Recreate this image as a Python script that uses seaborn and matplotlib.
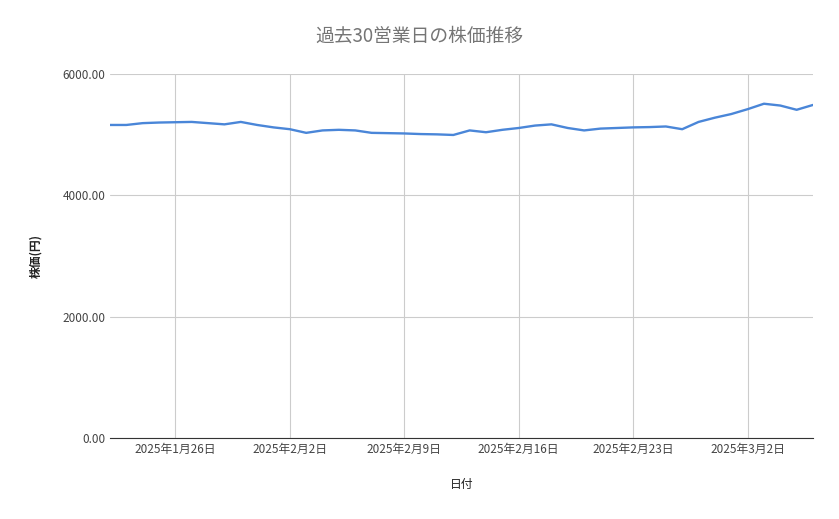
import matplotlib
matplotlib.use("Agg")
import matplotlib.pyplot as plt
import seaborn as sns
import pandas as pd

dates = pd.date_range("2025-01-22", "2025-03-06", freq="D")
prices = [5160, 5160, 5190, 5200, 5205, 5210, 5190, 5170, 5210, 5160, 5120, 5090,
          5030, 5070, 5080, 5070, 5030, 5025, 5020, 5010, 5005, 4995, 5070, 5040,
          5080, 5110, 5150, 5170, 5110, 5070, 5100, 5110, 5120, 5125, 5135, 5090,
          5210, 5280, 5340, 5420, 5510, 5480, 5410, 5490]
ticks = pd.to_datetime(["2025-01-26", "2025-02-02", "2025-02-09", "2025-02-16", "2025-02-23", "2025-03-02"])
tick_labels = ["2025年1月26日", "2025年2月2日", "2025年2月9日", "2025年2月16日", "2025年2月23日", "2025年3月2日"]
yticks = [0, 2000, 4000, 6000]

sns.set_style("white")
plt.rcParams['font.family'] = ['Noto Sans CJK JP', 'DejaVu Sans']
df = pd.DataFrame({"date": dates, "price": prices})

fig = plt.figure(figsize=(8.39, 5.19), dpi=100)
ax = fig.add_axes([110/839, 1-438/519, (813-110)/839, (438-74)/519])
sns.lineplot(data=df, x="date", y="price", ax=ax, color="#4a86d8", linewidth=1.7)
ax.set_xlim(dates[0], dates[-1])
ax.set_ylim(0, 6000)
ax.set_xticks(ticks)
ax.set_xticklabels(tick_labels)
ax.set_yticks(yticks)
ax.set_yticklabels([f"{v:.2f}" for v in yticks])
ax.tick_params(axis="both", labelsize=8.5, colors="#444444", length=0)
ax.grid(True, color="#cccccc", linewidth=0.8)
for s in ["top", "right", "left"]:
    ax.spines[s].set_visible(False)
ax.spines["bottom"].set_color("#333333")
ax.set_xlabel("日付", fontsize=8.5, color="#222222", labelpad=16)
ax.set_ylabel("株価(円)", fontsize=8.5, color="#222222", labelpad=14, fontweight="bold")
fig.suptitle("過去30営業日の株価推移", x=0.5, y=0.95, fontsize=13.5, color="#757575")
fig.savefig("out.png", dpi=100)
